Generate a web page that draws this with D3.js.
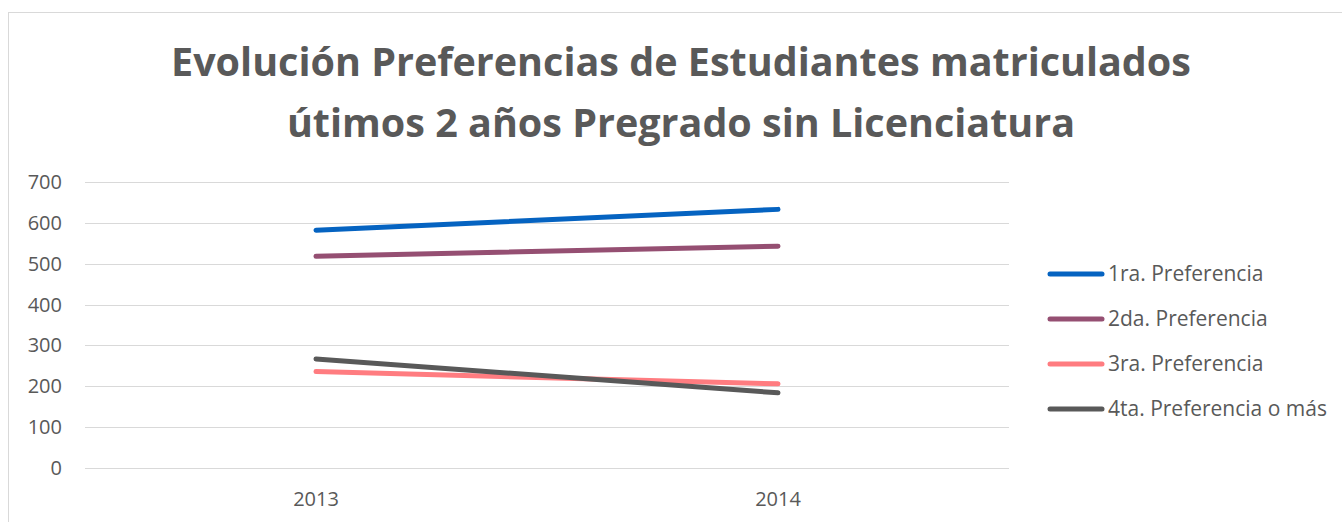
<!DOCTYPE html>
<html>
<head>
<meta charset="utf-8">
<script src="https://cdn.jsdelivr.net/npm/d3@7"></script>
<style>
  body { margin: 0; background: #fff; }
  text { font-family: "Open Sans", "Liberation Sans", sans-serif; fill: #595959; }
</style>
</head>
<body>
<div id="chart"></div>
<script>
var years = ["2013", "2014"];
var seriesNames = ["1ra. Preferencia", "2da. Preferencia", "3ra. Preferencia", "4ta. Preferencia o más"];
var pref1 = [582, 633];
var pref2 = [518, 543];
var pref3 = [236, 206];
var pref4 = [267, 184];
var yTicks = [0, 100, 200, 300, 400, 500, 600, 700];
var titleLines = ["Evolución Preferencias de Estudiantes matriculados", "útimos 2 años Pregrado sin Licenciatura"];

var colors = ["#0563C1", "#954F72", "#FF7C80", "#595959"];
var allSeries = [pref1, pref2, pref3, pref4];

var width = 1342, height = 522,
    margin = {top: 182, left: 85, right: 333, bottom: 54};

var svg = d3.select("#chart").append("svg")
  .attr("width", width)
  .attr("height", height);

// outer chart border (runs off the right and bottom)
svg.append("rect")
  .attr("x", 8.5).attr("y", 12.5)
  .attr("width", 1400).attr("height", 600)
  .attr("fill", "none")
  .attr("stroke", "#d9d9d9");

svg.selectAll(".title")
  .data(titleLines)
  .enter()
  .append("text")
  .attr("class", "title")
  .attr("x", 681)
  .attr("y", function(d, i){ return 76 + i * 61; })
  .attr("text-anchor", "middle")
  .style("font-size", "39.5px")
  .style("font-weight", "bold")
  .text(function(d){ return d; });

var x = d3.scaleBand()
  .domain(years)
  .range([margin.left, width - margin.right]);

var y = d3.scaleLinear()
  .domain([0, 700])
  .range([height - margin.bottom, margin.top]);

// gridlines
svg.selectAll(".grid")
  .data(yTicks)
  .enter()
  .append("line")
  .attr("x1", margin.left)
  .attr("x2", width - margin.right)
  .attr("y1", function(d){ return Math.round(y(d)) + 0.5; })
  .attr("y2", function(d){ return Math.round(y(d)) + 0.5; })
  .attr("stroke", "#d9d9d9")
  .attr("stroke-width", 1);

svg.selectAll(".ylab")
  .data(yTicks)
  .enter()
  .append("text")
  .attr("x", 62)
  .attr("y", function(d){ return y(d); })
  .attr("dy", "0.35em")
  .attr("text-anchor", "end")
  .style("font-size", "20px")
  .text(function(d){ return d; });

svg.selectAll(".xlab")
  .data(years)
  .enter()
  .append("text")
  .attr("x", function(d){ return x(d) + x.bandwidth() / 2; })
  .attr("y", 506)
  .attr("text-anchor", "middle")
  .style("font-size", "20px")
  .text(function(d){ return d; });

var line = d3.line()
  .x(function(d, i){ return x(years[i]) + x.bandwidth() / 2; })
  .y(function(d){ return y(d); });

svg.selectAll(".series")
  .data(allSeries)
  .enter()
  .append("path")
  .attr("d", line)
  .attr("fill", "none")
  .attr("stroke", function(d, i){ return colors[i]; })
  .attr("stroke-width", 5)
  .attr("stroke-linecap", "round");

// legend
var legend = svg.selectAll(".legend")
  .data(seriesNames)
  .enter()
  .append("g")
  .attr("transform", function(d, i){ return "translate(1050," + (274 + i * 45) + ")"; });

legend.append("line")
  .attr("x1", 0).attr("x2", 52)
  .attr("stroke", function(d, i){ return colors[i]; })
  .attr("stroke-width", 5)
  .attr("stroke-linecap", "round");

legend.append("text")
  .attr("x", 58)
  .attr("dy", "0.35em")
  .style("font-size", "21px")
  .text(function(d){ return d; });
</script>
</body>
</html>
